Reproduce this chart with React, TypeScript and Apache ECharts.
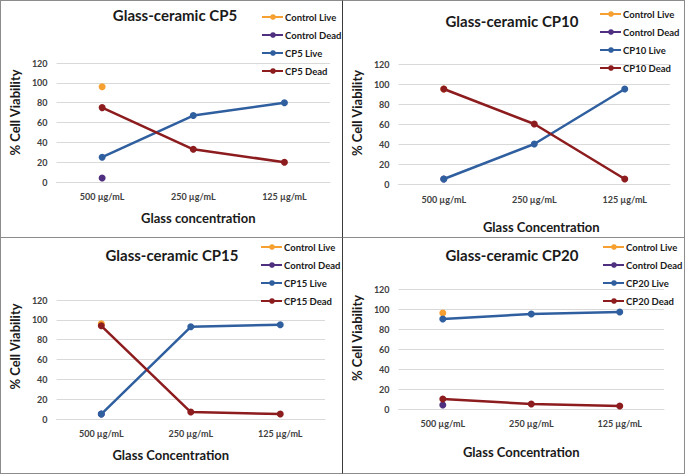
import React, { useEffect, useRef } from 'react';
import * as echarts from 'echarts';

// ---- data ----
const categories = ['500 µg/mL', '250 µg/mL', '125 µg/mL'];
const yTicks = [0, 20, 40, 60, 80, 100, 120];

const cp5ControlLive = [96, null, null];
const cp5ControlDead = [4, null, null];
const cp5Live = [25, 67, 80];
const cp5Dead = [75, 33, 20];

const cp10ControlLive = [95, null, null];
const cp10ControlDead = [5, null, null];
const cp10Live = [5, 40, 95];
const cp10Dead = [95, 60, 5];

const cp15ControlLive = [96, null, null];
const cp15ControlDead = [5, null, null];
const cp15Live = [5, 93, 95];
const cp15Dead = [94, 7, 5];

const cp20ControlLive = [96, null, null];
const cp20ControlDead = [4, null, null];
const cp20Live = [90, 95, 97];
const cp20Dead = [10, 5, 3];

// ---- styling ----
const FONT = 'Lato, "Open Sans", sans-serif';
const COLORS = ['#F5A030', '#4F2F80', '#2F5F9F', '#8C1C1E'];
const LEGEND_ROW = 18;

type Panel = {
  title: string;
  xName: string;
  names: string[];
  data: (number | null)[][];
  box: { left: number; top: number; width: number; height: number };
  grid: { left: number; right: number; top: number; height: number };
  titlePos: [number, number];
  legendPos: [number, number];
  labelMargin: number;
  xNameGap: number;
  xNameShift: number;
  yNameGap: number;
  yNameShift: number;
};

const panels: Panel[] = [
  {
    title: 'Glass-ceramic CP5',
    xName: 'Glass concentration',
    names: ['Control Live', 'Control Dead', 'CP5 Live', 'CP5 Dead'],
    data: [cp5ControlLive, cp5ControlDead, cp5Live, cp5Dead],
    box: { left: 0, top: 0, width: 343, height: 238 },
    grid: { left: 52, right: 13, top: 63, height: 119 },
    titlePos: [175, 16],
    legendPos: [262, 17],
    labelMargin: 10,
    xNameGap: 29,
    xNameShift: 5,
    yNameGap: 27,
    yNameShift: 10,
  },
  {
    title: 'Glass-ceramic CP10',
    xName: 'Glass Concentration',
    names: ['Control Live', 'Control Dead', 'CP10 Live', 'CP10 Dead'],
    data: [cp10ControlLive, cp10ControlDead, cp10Live, cp10Dead],
    box: { left: 342, top: 0, width: 343, height: 238 },
    grid: { left: 51, right: 15, top: 64, height: 120 },
    titlePos: [170, 22],
    legendPos: [258, 14],
    labelMargin: 11,
    xNameGap: 36,
    xNameShift: 7,
    yNameGap: 29,
    yNameShift: 11,
  },
  {
    title: 'Glass-ceramic CP15',
    xName: 'Glass Concentration',
    names: ['Control Live', 'Control Dead', 'CP15 Live', 'CP15 Dead'],
    data: [cp15ControlLive, cp15ControlDead, cp15Live, cp15Dead],
    box: { left: 0, top: 237, width: 343, height: 237 },
    grid: { left: 48, right: 18, top: 63, height: 119 },
    titlePos: [172, 19],
    legendPos: [261, 10],
    labelMargin: 10,
    xNameGap: 29,
    xNameShift: -20,
    yNameGap: 27,
    yNameShift: 13,
  },
  {
    title: 'Glass-ceramic CP20',
    xName: 'Glass Concentration',
    names: ['Control Live', 'Control Dead', 'CP20 Live', 'CP20 Dead'],
    data: [cp20ControlLive, cp20ControlDead, cp20Live, cp20Dead],
    box: { left: 342, top: 237, width: 343, height: 237 },
    grid: { left: 47, right: 21, top: 52, height: 120 },
    titlePos: [170, 19],
    legendPos: [261, 10],
    labelMargin: 10,
    xNameGap: 36,
    xNameShift: -10,
    yNameGap: 27,
    yNameShift: 11,
  },
];

function buildOption(p: Panel): echarts.EChartsOption {
  const xs = p.xNameShift;
  const ys = p.yNameShift;
  return {
    animation: false,
    color: COLORS,
    textStyle: { fontFamily: FONT },
    title: {
      text: p.title,
      left: p.titlePos[0],
      top: p.titlePos[1] - 9,
      padding: 0,
      textAlign: 'center',
      textStyle: { fontFamily: FONT, fontSize: 15, fontWeight: 'bold', color: '#1a1a1a' },
    },
    legend: {
      orient: 'vertical',
      left: p.legendPos[0],
      top: p.legendPos[1] - 6,
      padding: 0,
      itemWidth: 20,
      itemHeight: 7,
      itemGap: LEGEND_ROW - 12,
      selectedMode: false,
      data: p.names,
      textStyle: {
        fontFamily: FONT,
        fontSize: 9.5,
        fontWeight: 'bold',
        color: '#1a1a1a',
        lineHeight: 12,
        padding: [0, 0, 0, -3],
      },
    },
    // legend key lines drawn behind the legend dots
    graphic: p.names.map((_, k) => ({
      type: 'line',
      z: 1,
      silent: true,
      shape: {
        x1: p.legendPos[0],
        y1: p.legendPos[1] + k * LEGEND_ROW,
        x2: p.legendPos[0] + 20,
        y2: p.legendPos[1] + k * LEGEND_ROW,
      },
      style: { stroke: COLORS[k], lineWidth: 2 },
    })),
    grid: { ...p.grid },
    xAxis: {
      type: 'category',
      data: categories,
      axisLine: { show: true, lineStyle: { color: '#d9d9d9', width: 1 } },
      axisTick: { show: false },
      axisLabel: {
        margin: p.labelMargin,
        fontFamily: FONT,
        fontSize: 9,
        fontWeight: 'bold',
        color: '#404040',
      },
      name: p.xName,
      nameLocation: 'middle',
      nameGap: p.xNameGap,
      nameTextStyle: {
        fontFamily: FONT,
        fontSize: 13,
        fontWeight: 'bold',
        color: '#1a1a1a',
        padding: xs >= 0 ? [0, 0, 0, 2 * xs] : [0, -2 * xs, 0, 0],
      },
    },
    yAxis: {
      type: 'value',
      min: yTicks[0],
      max: yTicks[yTicks.length - 1],
      interval: yTicks[1] - yTicks[0],
      axisLine: { show: false },
      axisTick: { show: false },
      splitLine: { lineStyle: { color: '#d9d9d9', width: 1 } },
      axisLabel: {
        margin: 9,
        fontFamily: FONT,
        fontSize: 9,
        fontWeight: 'bold',
        color: '#404040',
      },
      name: '% Cell Viability',
      nameLocation: 'middle',
      nameGap: p.yNameGap,
      nameTextStyle: {
        fontFamily: FONT,
        fontSize: 13,
        fontWeight: 'bold',
        color: '#1a1a1a',
        padding: [0, 0, 0, 2 * ys],
      },
    },
    series: p.names.map((name, i) => ({
      name,
      type: 'line',
      data: p.data[i],
      symbol: 'circle',
      symbolSize: 7,
      showSymbol: true,
      connectNulls: false,
      lineStyle: { width: 2.5, color: COLORS[i] },
      itemStyle: { color: COLORS[i] },
      z: 2 + i,
    })),
  };
}

function ChartPanel({ panel, idx }: { panel: Panel; idx: number }) {
  const ref = useRef<HTMLDivElement>(null);
  useEffect(() => {
    if (!ref.current) return;
    const chart = echarts.init(ref.current, undefined, { renderer: 'svg' });
    chart.setOption(buildOption(panel));
    return () => chart.dispose();
  }, [panel]);
  const b = panel.box;
  const isLeft = idx % 2 === 0;
  return (
    <div
      style={{
        position: 'absolute',
        left: b.left,
        top: b.top,
        width: b.width,
        height: b.height,
        boxSizing: 'border-box',
        borderTop: '1px solid #8c8c8c',
        borderBottom: '1px solid #8c8c8c',
        borderLeft: isLeft ? '1px solid #8c8c8c' : '1px solid #3a3a3a',
        borderRight: isLeft ? '1px solid #3a3a3a' : '1px solid #8c8c8c',
        background: '#fff',
      }}
    >
      <div ref={ref} style={{ position: 'absolute', left: -1, top: -1, width: b.width, height: b.height }} />
    </div>
  );
}

export default function App() {
  return (
    <div
      style={{
        position: 'fixed',
        left: 0,
        top: 0,
        width: 685,
        height: 474,
        background: '#fff',
        overflow: 'hidden',
      }}
    >
      {panels.map((p, i) => (
        <ChartPanel key={i} panel={p} idx={i} />
      ))}
    </div>
  );
}
